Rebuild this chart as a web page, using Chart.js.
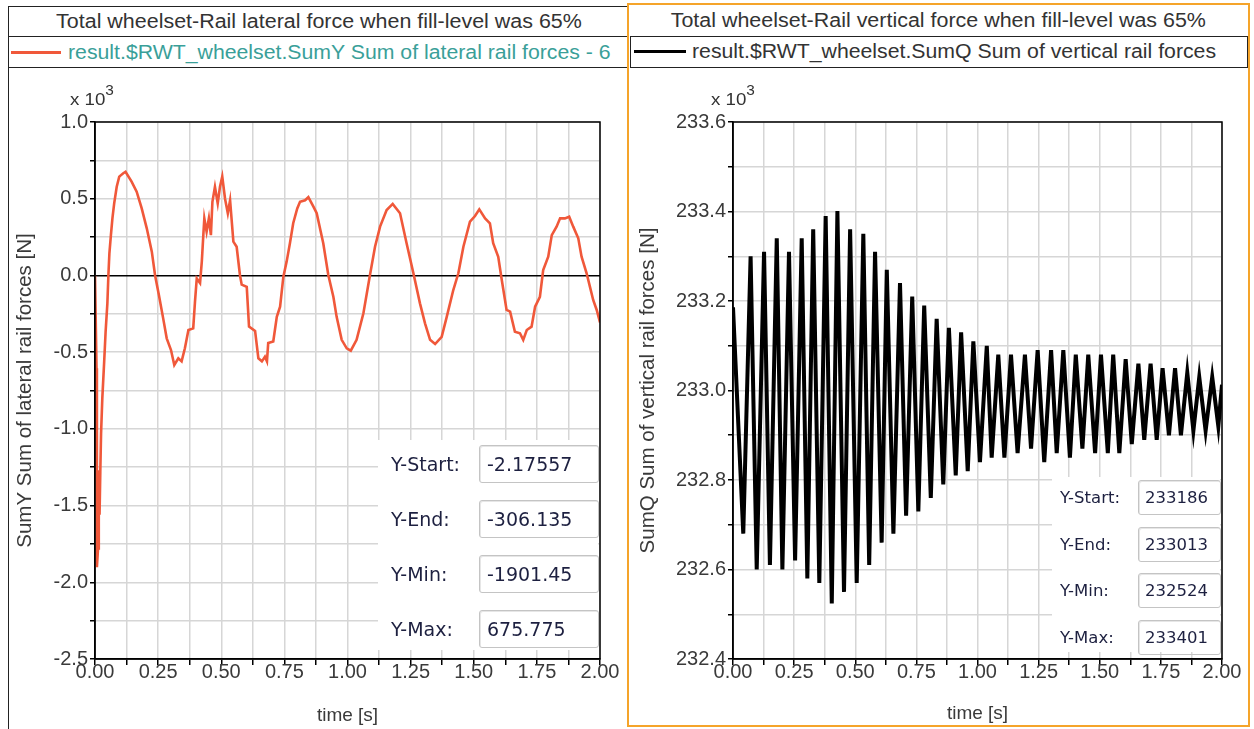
<!DOCTYPE html>
<html>
<head>
<meta charset="utf-8">
<script src="https://cdn.jsdelivr.net/npm/chart.js@4/dist/chart.umd.min.js"></script>
<style>
  body { margin: 0; width: 1254px; height: 729px; background: #fff; position: relative; overflow: hidden;
         font-family: "Liberation Sans", Arial, sans-serif; color: #333; }
  .abs { position: absolute; box-sizing: border-box; }
  .row { font-size: 19.5px; line-height: 31px; white-space: nowrap; }
  .wide { display: inline-block; transform: scaleX(1.1); }
  .leg { display: inline-block; transform: scaleX(1.09); transform-origin: left; }
  .exp { font-size: 17px; color: #333; transform: scaleX(1.1); transform-origin: left; }
  .exp sup { font-size: 14px; position: relative; top: -3px; }
  .stats { background: #fff; font-family: "DejaVu Sans", sans-serif; color: #1d2040; }
  .stats .lbl { position: absolute; }
  .stats .val { position: absolute; box-sizing: border-box; border: 1px solid #c4c4c4; border-radius: 3px; box-shadow: inset 1px 1px 0 #e6e6e6; }
</style>
</head>
<body>

<!-- left panel frame -->
<div class="abs" style="left:8px;top:6px;width:621px;height:723px;border-left:1.5px solid #222;border-top:1.5px solid #222;"></div>
<div class="abs row" style="left:8px;top:6px;width:621px;height:31px;border-bottom:1.5px solid #222;text-align:center;"><span class="wide">Total wheelset-Rail lateral force when fill-level was 65%</span></div>
<div class="abs row" style="left:8px;top:37px;width:621px;height:31px;border-bottom:1.5px solid #222;border-right:1.5px solid #222;">
  <span class="abs" style="left:3px;top:14px;width:50px;height:3px;background:#f0583a;"></span>
  <span class="abs leg" style="left:60px;top:0;color:#3a9f99;">result.$RWT_wheelset.SumY Sum of lateral rail forces - 6</span>
</div>

<!-- right panel frame -->
<div class="abs" style="left:627px;top:3px;width:623px;height:724px;border:2px solid #f5a42a;"></div>
<div class="abs row" style="left:629px;top:5px;width:619px;height:31px;text-align:center;"><span class="wide">Total wheelset-Rail vertical force when fill-level was 65%</span></div>
<div class="abs row" style="left:630px;top:36px;width:618px;height:32px;border:1.5px solid #222;">
  <span class="abs" style="left:3px;top:13px;width:52px;height:3px;background:#000;"></span>
  <span class="abs leg" style="left:61px;top:-1px;">result.$RWT_wheelset.SumQ Sum of vertical rail forces</span>
</div>

<canvas id="lateral" class="abs" style="left:9px;top:68px;" width="619" height="659"></canvas>
<canvas id="vertical" class="abs" style="left:630px;top:68px;" width="618" height="657"></canvas>

<div class="abs exp" style="left:70px;top:85px;">x 10<sup>3</sup></div>
<div class="abs exp" style="left:711px;top:85px;">x 10<sup>3</sup></div>

<div id="latStats" class="abs stats" style="left:378px;top:440px;width:220px;height:210px;"></div>
<div id="vertStats" class="abs stats" style="left:1052px;top:477px;width:168px;height:175px;"></div>

<script>
// time [s] and force [N] for the lateral force trace
const lateralTime = [0, 0.006, 0.0075, 0.012, 0.015, 0.018, 0.021, 0.024, 0.029, 0.036,
  0.042, 0.049, 0.053, 0.057, 0.063, 0.069, 0.076, 0.086, 0.096, 0.112,
  0.121, 0.145, 0.165, 0.185, 0.205, 0.225, 0.238, 0.253, 0.270, 0.284,
  0.301, 0.314, 0.330, 0.343, 0.356, 0.370, 0.389, 0.396, 0.403, 0.416,
  0.423, 0.429, 0.433, 0.442, 0.451, 0.459, 0.465, 0.475, 0.486, 0.495,
  0.504, 0.515, 0.526, 0.535, 0.548, 0.561, 0.574, 0.581, 0.601, 0.610,
  0.634, 0.647, 0.661, 0.673, 0.681, 0.686, 0.706, 0.720, 0.733, 0.746,
  0.759, 0.772, 0.785, 0.801, 0.812, 0.832, 0.845, 0.865, 0.878, 0.904,
  0.924, 0.944, 0.957, 0.977, 0.997, 1.013, 1.036, 1.063, 1.089, 1.109,
  1.129, 1.155, 1.179, 1.208, 1.234, 1.261, 1.287, 1.307, 1.327, 1.347,
  1.373, 1.393, 1.419, 1.439, 1.459, 1.485, 1.505, 1.522, 1.545, 1.564,
  1.577, 1.597, 1.611, 1.630, 1.644, 1.663, 1.683, 1.696, 1.710, 1.729,
  1.743, 1.762, 1.775, 1.795, 1.809, 1.828, 1.842, 1.861, 1.878, 1.894,
  1.914, 1.927, 1.947, 1.960, 1.973, 1.987, 2.0];
const lateralForce = [-2.17557, -605, -1901.45, -1780, -1270, -1560, -1280, -1030, -800, -573,
  -367, -182, 0, 144, 263, 372, 470, 578, 644, 666,
  675.775, 611, 546, 437, 307, 155, 0, -128, -280, -410,
  -486, -584, -540, -560, -475, -356, -345, -171, -20, -50,
  90, 263, 372, 285, 372, 263, 480, 578, 470, 578,
  644, 500, 405, 490, 220, 187, 3, -60, -75, -334,
  -362, -540, -560, -530, -560, -440, -430, -270, -204, -8,
  90, 210, 340, 437, 480, 490, 510, 448, 405, 210,
  3, -139, -270, -420, -475, -490, -420, -247, 3, 187,
  318, 426, 466, 405, 210, 14, -182, -312, -420, -447,
  -400, -270, -95, 14, 187, 350, 387, 431, 372, 340,
  210, 122, -30, -225, -236, -367, -377, -420, -356, -334,
  -204, -139, 35, 122, 263, 318, 372, 372, 383, 318,
  242, 122, 14, -73, -160, -225, -306.135];

// time [s] and force [N] for the vertical force trace (turning points)
const verticalTime = [0, 0.042, 0.072, 0.097, 0.127, 0.151, 0.179, 0.202, 0.229, 0.254,
  0.281, 0.304, 0.328, 0.353, 0.379, 0.404, 0.427, 0.454, 0.479, 0.506,
  0.533, 0.557, 0.581, 0.608, 0.629, 0.656, 0.683, 0.708, 0.733, 0.758,
  0.782, 0.809, 0.833, 0.860, 0.883, 0.911, 0.933, 0.960, 0.983, 1.010,
  1.038, 1.058, 1.085, 1.110, 1.137, 1.164, 1.194, 1.219, 1.246, 1.273,
  1.301, 1.324, 1.351, 1.378, 1.402, 1.429, 1.453, 1.481, 1.505, 1.533,
  1.555, 1.580, 1.606, 1.631, 1.658, 1.682, 1.708, 1.733, 1.757, 1.783,
  1.808, 1.832, 1.858, 1.883, 1.907, 1.933, 1.960, 1.985, 2.0];
const verticalForce = [233186, 232680, 233300, 232600, 233310, 232610, 233340, 232600, 233310, 232620,
  233340, 232580, 233360, 232570, 233390, 232524, 233401, 232550, 233360, 232570,
  233350, 232610, 233310, 232660, 233270, 232680, 233240, 232720, 233210, 232730,
  233190, 232760, 233160, 232790, 233140, 232810, 233130, 232820, 233110, 232840,
  233100, 232850, 233080, 232850, 233080, 232860, 233080, 232870, 233090, 232840,
  233090, 232860, 233090, 232850, 233080, 232870, 233080, 232860, 233080, 232860,
  233080, 232860, 233070, 232880, 233060, 232890, 233060, 232890, 233050, 232900,
  233050, 232900, 233040, 232910, 233030, 232910, 233030, 232920, 233013];

// axis ranges in N, shown in units of 10^3
const lateralRange = { min: -2500, max: 1000, step: 250, labelEvery: 500 };
const verticalRange = { min: 232400, max: 233600, step: 100, labelEvery: 200 };
const timeRange = { min: 0, max: 2, step: 0.125 };

const statNames = ['Y-Start:', 'Y-End:', 'Y-Min:', 'Y-Max:'];

Chart.defaults.font.family = "'Liberation Sans', Arial, sans-serif";
Chart.defaults.color = '#3a3a3a';

// black box round the plot area
const frame = {
  id: 'frame',
  afterDraw(chart) {
    const a = chart.chartArea, ctx = chart.ctx;
    ctx.save();
    ctx.strokeStyle = '#000';
    ctx.lineWidth = 1.5;
    ctx.strokeRect(a.left, a.top, a.right - a.left, a.bottom - a.top);
    ctx.restore();
  }
};

function makeChart(id, time, force, range, color, width, yTitle, pad, yWidth, xHeight, titlePad) {
  const pts = time.map((t, i) => ({ x: t, y: force[i] }));
  return new Chart(document.getElementById(id), {
    type: 'line',
    data: { datasets: [{ data: pts, borderColor: color, borderWidth: width, pointRadius: 0, tension: 0 }] },
    options: {
      responsive: false,
      animation: false,
      devicePixelRatio: 1,
      layout: { padding: pad },
      plugins: { legend: { display: false }, tooltip: { enabled: false } },
      scales: {
        x: {
          type: 'linear', min: timeRange.min, max: timeRange.max,
          afterFit: s => { s.height = xHeight; },
          border: { color: '#000', width: 1.5 },
          grid: { color: '#d6d6d6', lineWidth: 1.5, tickColor: '#000', tickLength: 6 },
          ticks: {
            stepSize: timeRange.step, autoSkip: false, maxRotation: 0, padding: -5,
            font: { size: 20 },
            callback: v => Math.abs(v * 4 - Math.round(v * 4)) < 1e-9 ? v.toFixed(2) : ''
          },
          title: { display: true, text: 'time [s]', font: { size: 19 }, padding: { top: titlePad.x, bottom: 0 } }
        },
        y: {
          min: range.min, max: range.max,
          afterFit: s => { s.width = yWidth; },
          border: { color: '#000', width: 1.5 },
          grid: {
            lineWidth: 1.5, tickColor: '#000', tickLength: 5,
            color: c => c.tick && c.tick.value === 0 ? '#000' : '#d6d6d6'
          },
          ticks: {
            stepSize: range.step, autoSkip: false, padding: 2,
            font: { size: 20 },
            callback: v => (v - range.min) % range.labelEvery === 0 ? (v / 1000).toFixed(1) : ''
          },
          title: { display: true, text: yTitle, font: { size: 20.5 }, padding: { top: titlePad.y, bottom: 0 } }
        }
      }
    },
    plugins: [frame]
  });
}

makeChart('lateral', lateralTime, lateralForce, lateralRange, '#f0583a', 2.6,
  'SumY Sum of lateral rail forces [N]', { top: 54, right: 28, left: 0, bottom: 0 }, 86, 68, { x: 6, y: 4 });
makeChart('vertical', verticalTime, verticalForce, verticalRange, '#000', 4,
  'SumQ Sum of vertical rail forces [N]', { top: 54, right: 26, left: 0, bottom: 0 }, 103, 66, { x: 5, y: 6 });

// Y-Start / Y-End / Y-Min / Y-Max boxes, read from the same arrays
function fillStats(id, force, g) {
  const vals = [force[0], force[force.length - 1], Math.min(...force), Math.max(...force)];
  const box = document.getElementById(id);
  statNames.forEach((name, i) => {
    const top = g.first + i * g.gap;
    const lbl = document.createElement('div');
    lbl.className = 'lbl';
    lbl.style.cssText = `left:${g.lblX}px;top:${top}px;height:${g.h}px;line-height:${g.h}px;font-size:${g.font}px;`;
    lbl.textContent = name;
    const val = document.createElement('div');
    val.className = 'val';
    val.style.cssText = `left:${g.boxX}px;top:${top}px;width:${g.boxW}px;height:${g.h}px;line-height:${g.h - 2}px;font-size:${g.font}px;padding-left:${g.padL}px;`;
    val.textContent = String(Number(vals[i].toPrecision(6)));
    box.appendChild(lbl);
    box.appendChild(val);
  });
}
fillStats('latStats', lateralForce, { first: 5, gap: 55, h: 38, lblX: 13, boxX: 101, boxW: 120, font: 19, padL: 7 });
fillStats('vertStats', verticalForce, { first: 3, gap: 46.5, h: 35, lblX: 8, boxX: 86, boxW: 83, font: 16.5, padL: 6 });
</script>
</body>
</html>
